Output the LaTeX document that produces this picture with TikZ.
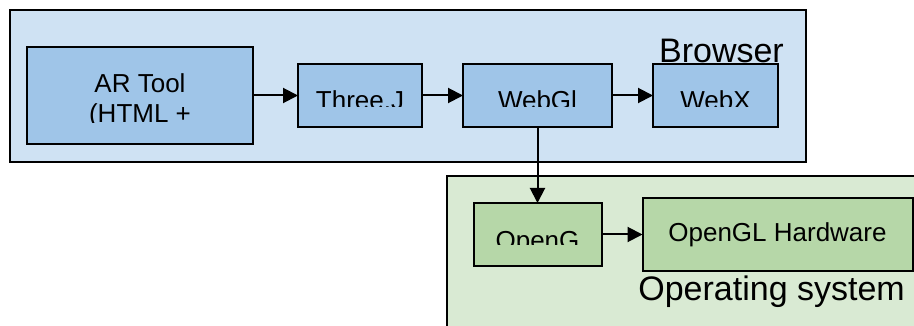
\documentclass[tikz,border=0pt]{standalone}
\usepackage{fontspec}
\setmainfont{Liberation Sans}
\usetikzlibrary{positioning,arrows.meta}

\definecolor{browserbg}{HTML}{CFE2F3}
\definecolor{browserbox}{HTML}{9FC5E8}
\definecolor{osbg}{HTML}{D9EAD3}
\definecolor{osbox}{HTML}{B6D7A8}

\tikzset{
  box font/.style={font=\fontsize{26}{30}\selectfont},
  layer/.style={draw, line width=1.7pt, inner sep=0pt, outer sep=0pt, anchor=north west},
  box/.style={draw, line width=2pt, inner sep=0pt, outer sep=0pt, minimum height=63pt},
  box text/.style={box font, inner sep=0pt, outer sep=0pt, minimum size=0pt, align=center},
  layer text/.style={font=\fontsize{34}{40}\selectfont, inner sep=0pt, anchor=base east},
  % text that runs past the lower half of its box gets cut off
  cut text/.style n args={3}{path picture={
      \clip (path picture bounding box.north west)
        rectangle ([yshift=#3]path picture bounding box.east);
      \node[box text, anchor=base] at ([yshift=#2]path picture bounding box.center) {#1};
  }},
  link/.style={line width=2pt, -{Triangle[length=15pt,width=15pt]}},
}

\begin{document}
\begin{tikzpicture}[x=1pt, y=-1pt, node distance=41pt]
  \clip (0,0) rectangle (914,326);

  % browser layer
  \node[layer, fill=browserbg, minimum width=796pt, minimum height=152pt] (browser) at (10,10) {};
  \node[layer text] (browserlabel) at (784,63) {Browser};

  \node[box, fill=browserbox, minimum width=226pt, minimum height=97pt,
        cut text={AR Tool\\(HTML +}{-27pt}{-27.5pt}] (artool) at (140,95.5) {};
  \node[box, fill=browserbox, minimum width=124pt, right=45pt of artool,
        cut text={Three.J}{-14pt}{-11pt}] (threejs) {};
  \node[box, fill=browserbox, minimum width=149pt, right=of threejs,
        cut text={WebGl}{-14pt}{-11pt}] (webgl) {};
  \node[box, fill=browserbox, minimum width=125pt, right=of webgl,
        cut text={WebX}{-14pt}{-11pt}] (webx) {};

  % operating system layer
  \node[layer, fill=osbg, minimum width=520pt, minimum height=200pt] (os) at (447,176) {};
  \node[layer text] (oslabel) at (905,300) {Operating system};

  \node[box, fill=osbox, minimum width=128pt, below=76pt of webgl,
        cut text={OpenG}{-15pt}{-10.5pt}] (opengl) {};
  \node[box, box font, fill=osbox, minimum width=270pt, minimum height=73pt,
        right=of opengl] (glhw) {OpenGL Hardware};

  \draw[link] (artool) -- (threejs);
  \draw[link] (threejs) -- (webgl);
  \draw[link] (webgl) -- (webx);
  \draw[link] (webgl) -- (opengl);
  \draw[link] (opengl.east) -- (opengl.east -| glhw.west);
\end{tikzpicture}
\end{document}
